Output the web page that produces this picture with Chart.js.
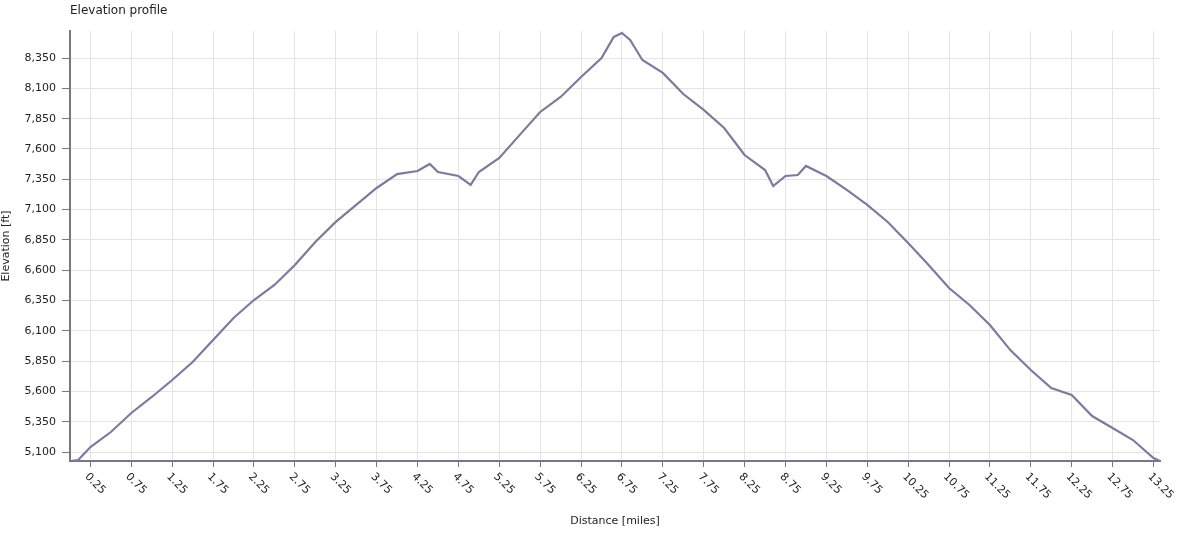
<!DOCTYPE html>
<html><head><meta charset="utf-8">
<script src="https://cdn.jsdelivr.net/npm/chart.js@4"></script>
<style>html,body{margin:0;padding:0;background:#fff}#w{width:1200px;height:550px}</style>
</head><body><div id="w"><canvas id="c"></canvas></div>
<script>
const distances = [0,0.1,0.25,0.5,0.75,1.0,1.25,1.5,1.75,2.0,2.25,2.5,2.75,3.0,3.25,3.5,3.75,4.0,4.25,4.4,4.5,4.75,4.9,5.0,5.25,5.5,5.75,6.0,6.25,6.5,6.65,6.75,6.85,7.0,7.25,7.5,7.75,8.0,8.25,8.5,8.6,8.75,8.9,9.0,9.25,9.5,9.75,10.0,10.25,10.5,10.75,11.0,11.25,11.5,11.75,12.0,12.25,12.5,12.75,13.0,13.25,13.33];
const elevations = [5026,5034,5141,5265,5422,5554,5694,5843,6024,6206,6354,6478,6643,6833,6998,7138,7278,7393,7418,7476,7410,7377,7303,7410,7526,7716,7905,8029,8194,8350,8524,8557,8499,8334,8227,8053,7922,7773,7550,7426,7294,7377,7385,7460,7377,7262,7138,6998,6824,6643,6453,6313,6148,5941,5777,5628,5570,5397,5298,5199,5050,5026];
const xTicks = [0.25,0.75,1.25,1.75,2.25,2.75,3.25,3.75,4.25,4.75,5.25,5.75,6.25,6.75,7.25,7.75,8.25,8.75,9.25,9.75,10.25,10.75,11.25,11.75,12.25,12.75,13.25];
const yTicks = [5100,5350,5600,5850,6100,6350,6600,6850,7100,7350,7600,7850,8100,8350];
const FONT = 'DejaVu Sans';
const pts = distances.map((d,i)=>({x:d,y:elevations[i]}));
const labelPlugin = {id:'lbl', afterDraw(ch){
  const c=ch.ctx, xs=ch.scales.x, a=ch.chartArea;
  c.save(); c.fillStyle='#222'; c.font='11px '+FONT; c.textBaseline='middle'; c.textAlign='left';
  xTicks.forEach(t=>{const px=xs.getPixelForValue(t); c.save(); c.translate(px-4,a.bottom+14); c.rotate(Math.PI/4); c.fillText(t.toFixed(2),0,0); c.restore();});
  c.font='12px '+FONT; c.fillText('Elevation profile',70,11);
  c.restore();
}};
new Chart(document.getElementById('c'),{
  type:'line',
  data:{datasets:[{data:pts,borderColor:'#7b7b9c',borderWidth:2.2,pointRadius:0,tension:0,fill:false}]},
  options:{responsive:true,maintainAspectRatio:false,animation:false,
    layout:{padding:{top:31,right:40}},
    plugins:{legend:{display:false},tooltip:{enabled:false}},
    scales:{
      x:{type:'linear',min:0,max:13.33,
        afterBuildTicks(s){s.ticks=xTicks.map(v=>({value:v}));},
        afterFit(s){s.height=89;},
        ticks:{display:false},
        grid:{color:'#e4e4e4',tickLength:6,tickColor:'#777788'},
        border:{color:'#777788',width:2},
        title:{display:true,text:'Distance [miles]',font:{family:FONT,size:11},color:'#222',padding:{top:0,bottom:22}}},
      y:{min:5026,max:8573,
        afterBuildTicks(s){s.ticks=yTicks.map(v=>({value:v}));},
        afterFit(s){s.width=70;},
        ticks:{font:{family:FONT,size:11},color:'#222',padding:6},
        grid:{color:'#e4e4e4',tickLength:8,tickColor:'#777788'},
        border:{color:'#777788',width:2},
        title:{display:true,text:'Elevation [ft]',font:{family:FONT,size:11},color:'#222',padding:{top:0,bottom:2}}}
    }},
  plugins:[labelPlugin]
});
</script></body></html>
